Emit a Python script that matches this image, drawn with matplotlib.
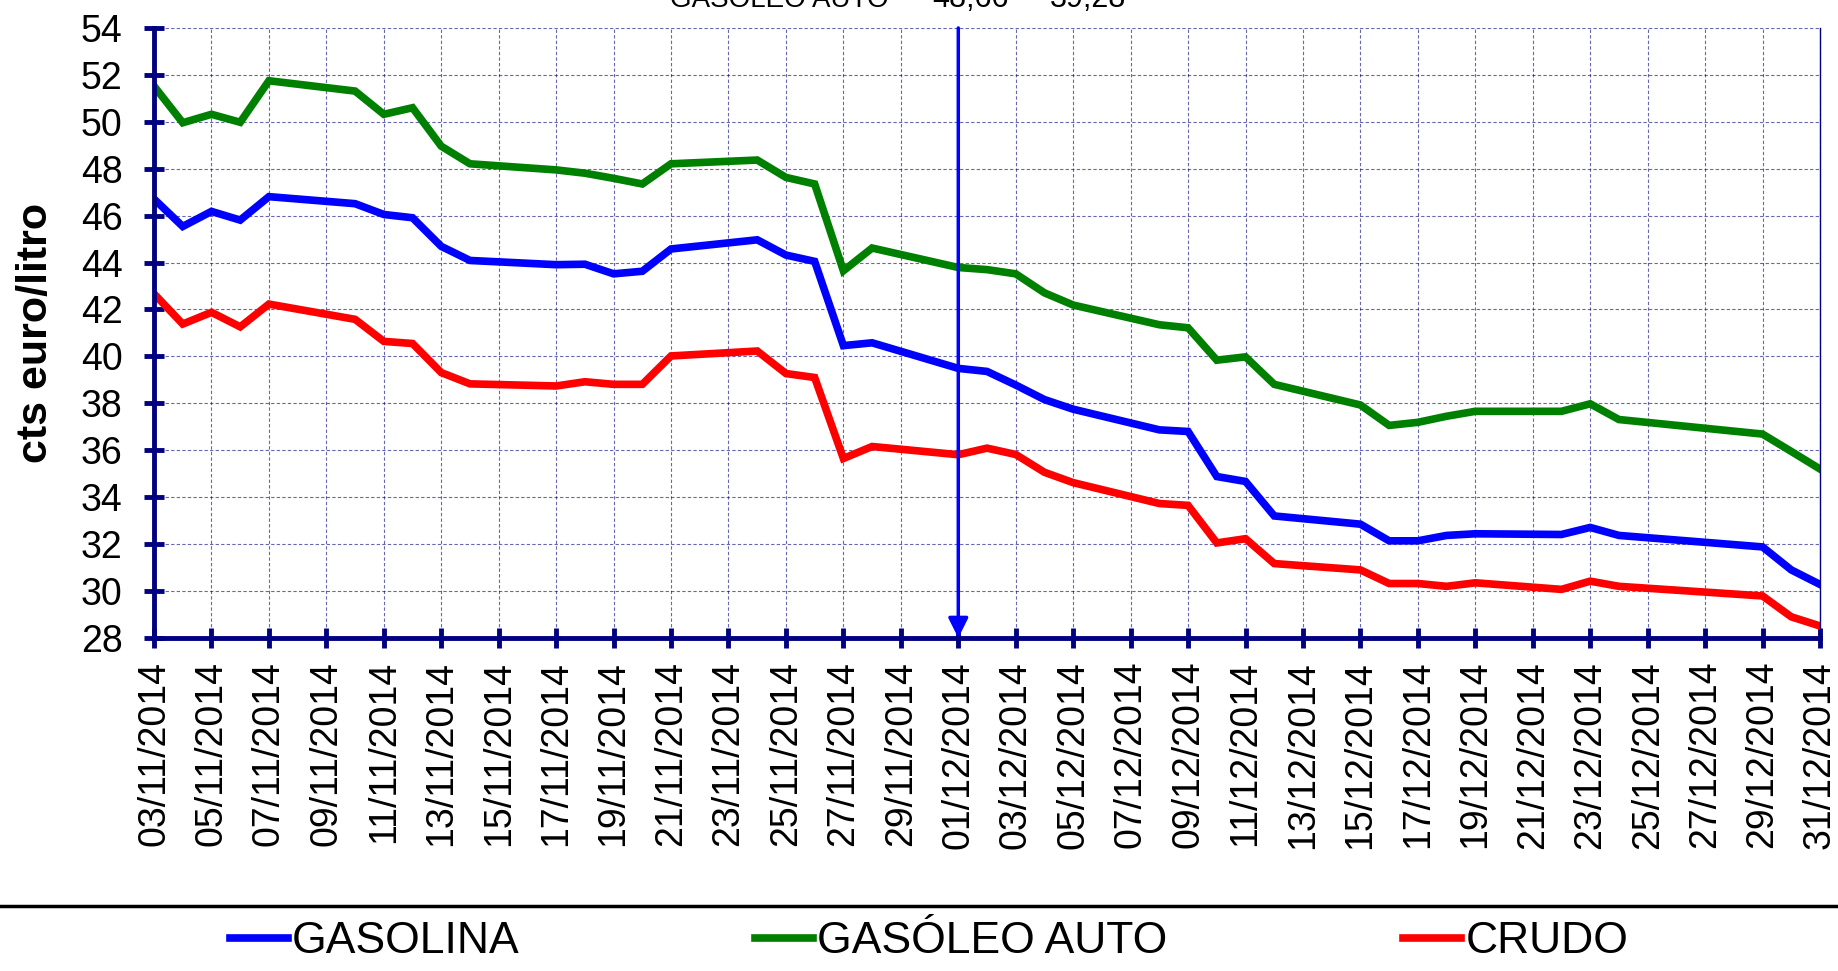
import matplotlib
matplotlib.use('Agg')
import matplotlib.pyplot as plt
import matplotlib.dates as mdates
from matplotlib.lines import Line2D
import pandas as pd

plt.rcParams['font.family'] = ['Liberation Sans', 'DejaVu Sans']

# business days shown on the chart
dates = [
    '2014-11-03', '2014-11-04', '2014-11-05', '2014-11-06', '2014-11-07',
    '2014-11-10', '2014-11-11', '2014-11-12', '2014-11-13', '2014-11-14',
    '2014-11-17', '2014-11-18', '2014-11-19', '2014-11-20', '2014-11-21',
    '2014-11-24', '2014-11-25', '2014-11-26', '2014-11-27', '2014-11-28',
    '2014-12-01', '2014-12-02', '2014-12-03', '2014-12-04', '2014-12-05',
    '2014-12-08', '2014-12-09', '2014-12-10', '2014-12-11', '2014-12-12',
    '2014-12-15', '2014-12-16', '2014-12-17', '2014-12-18', '2014-12-19',
    '2014-12-22', '2014-12-23', '2014-12-24', '2014-12-29', '2014-12-30',
    '2014-12-31',
]

gasolina = [
    46.71, 45.54, 46.18, 45.81, 46.81, 46.51, 46.05, 45.91, 44.69, 44.09,
    43.91, 43.93, 43.52, 43.63, 44.58, 44.97, 44.32, 44.05, 40.46, 40.58,
    39.49, 39.36, 38.78, 38.16, 37.75, 36.87, 36.80, 34.88, 34.67, 33.20,
    32.85, 32.14, 32.14, 32.37, 32.44, 32.41, 32.71, 32.37, 31.88, 30.90,
    30.28,
]

gasoleo = [
    51.52, 49.96, 50.32, 49.98, 51.75, 51.31, 50.32, 50.60, 48.96, 48.21,
    47.95, 47.81, 47.59, 47.35, 48.21, 48.37, 47.63, 47.35, 43.65, 44.62,
    43.79, 43.70, 43.52, 42.71, 42.19, 41.35, 41.22, 39.84, 39.98, 38.81,
    37.93, 37.06, 37.19, 37.45, 37.66, 37.66, 37.98, 37.31, 36.69, 35.95,
    35.20,
]

crudo = [
    42.67, 41.38, 41.88, 41.26, 42.23, 41.58, 40.64, 40.55, 39.31, 38.83,
    38.74, 38.92, 38.81, 38.81, 40.02, 40.23, 39.27, 39.10, 35.65, 36.16,
    35.81, 36.09, 35.82, 35.06, 34.62, 33.73, 33.65, 32.05, 32.23, 31.17,
    30.90, 30.32, 30.32, 30.20, 30.35, 30.07, 30.42, 30.20, 29.79, 28.90,
    28.51,
]

arrow_date = '2014-12-01'
header_label = 'GASÓLEO AUTO'
header_values = ['48,66', '39,28']
y_min, y_max = 28, 54

x = pd.to_datetime(dates)

fig = plt.figure(figsize=(18.38, 9.71), dpi=100)
ax = fig.add_axes([0.0838, 0.343, 0.9064, 0.6282])

navy = '#000080'
ax.plot(x, gasolina, color='#0000FF', lw=5.5, label='GASOLINA', solid_joinstyle='miter')
ax.plot(x, gasoleo, color='#008000', lw=5.5, label='GASÓLEO AUTO', solid_joinstyle='miter')
ax.plot(x, crudo, color='#FF0000', lw=5.5, label='CRUDO', solid_joinstyle='miter')

ax.set_xlim(x[0], x[-1])
ax.set_ylim(y_min, y_max)
ax.set_yticks(range(y_min, y_max + 1, 2))
ax.set_xticks(pd.date_range(x[0], x[-1], freq='2D'))
ax.xaxis.set_major_formatter(mdates.DateFormatter('%d/%m/%Y'))
plt.setp(ax.get_xticklabels(), rotation=90, ha='center', va='top')

ax.grid(True, color=navy, lw=0.8, linestyle=(0, (3, 2)), alpha=0.6)
ax.set_axisbelow(True)

for s in ['left', 'bottom']:
    ax.spines[s].set_color(navy)
    ax.spines[s].set_linewidth(3.5)
ax.spines['top'].set_visible(False)
ax.spines['right'].set_color(navy)
ax.spines['right'].set_linewidth(1)

ax.tick_params(axis='both', direction='inout', length=15, width=3.5, color=navy)
ax.tick_params(axis='y', labelsize=27, pad=15)
ax.tick_params(axis='x', labelsize=27, pad=9)

ax.set_ylabel('cts euro/litro', fontsize=31, fontweight='bold', labelpad=18)

# vertical arrow marking the reference day
ad = pd.Timestamp(arrow_date)
ax.annotate('', xy=(ad, y_min), xytext=(ad, y_max),
            arrowprops=dict(arrowstyle='-|>', color='#0000FF', lw=2.5,
                            mutation_scale=30, shrinkA=0, shrinkB=0),
            annotation_clip=False, zorder=5)

# header text partly cut off at the top (as in the original)
fig.text(0.3645, 0.9928, header_label, fontsize=20, va='baseline')
fig.text(0.507, 0.9928, header_values[0], fontsize=22, va='baseline')
fig.text(0.571, 0.9928, header_values[1], fontsize=22, va='baseline')

# separator above legend
fig.add_artist(Line2D([0, 1], [0.067, 0.067], transform=fig.transFigure,
                      color='black', lw=2.5))

fig.legend(loc='center', bbox_to_anchor=(0.5055, 0.03), ncol=3, frameon=False,
           fontsize=32, handlelength=1.3, handletextpad=0.1, columnspacing=5.3,
           borderaxespad=0, borderpad=0)

fig.savefig('out.png', dpi=100)
